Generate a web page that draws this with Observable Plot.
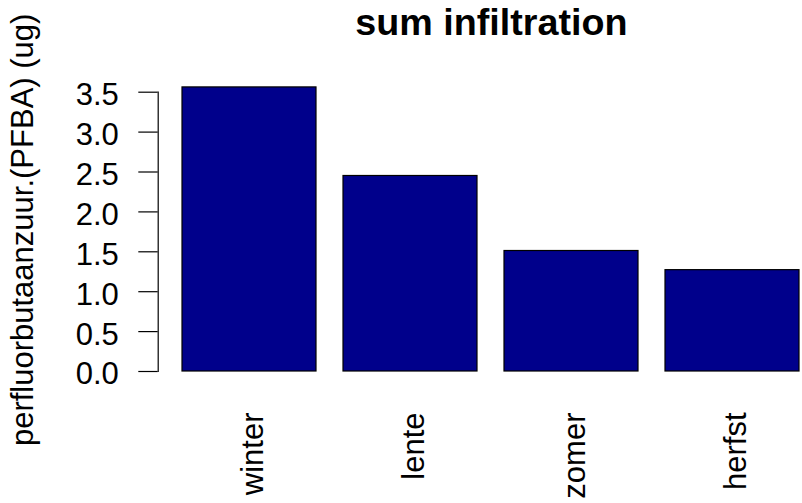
<!DOCTYPE html>
<html>
<head>
<meta charset="utf-8">
<script src="https://cdn.jsdelivr.net/npm/d3@7"></script>
<script src="https://cdn.jsdelivr.net/npm/@observablehq/plot@0.6"></script>
<style>
  html, body { margin: 0; padding: 0; background: #ffffff; }
  #chart { width: 802px; height: 503px; overflow: hidden; }
</style>
</head>
<body>
<div id="chart"></div>
<script>
// Data
const seasons = ["winter", "lente", "zomer", "herfst"];
const values = [3.56, 2.45, 1.51, 1.27];
const yTicks = [0, 0.5, 1.0, 1.5, 2.0, 2.5, 3.0, 3.5];
const titleText = "sum infiltration";
const yLabel = "perfluorbutaanzuur.(PFBA) (ug)";

const data = seasons.map((s, i) => ({season: s, value: values[i]}));
const font = "'Liberation Sans', Arial, Helvetica, sans-serif";

const chart = Plot.plot({
  width: 802,
  height: 503,
  marginTop: 91.7,
  marginBottom: 132,
  marginLeft: 157.7,
  marginRight: 0,
  style: {fontFamily: font, background: "#ffffff", color: "#000000", overflow: "visible"},
  x: {domain: seasons, range: [180.7, 800.5], paddingInner: 1 / 6, paddingOuter: 0, axis: null},
  y: {domain: [0, 3.5], axis: null},
  marks: [
    Plot.barY(data, {x: "season", y: "value", fill: "#00008B", stroke: "#000000", strokeWidth: 1.2}),
    Plot.frame({anchor: "left", stroke: "#000000", strokeWidth: 1.2}),
    // tick marks
    Plot.axisY({
      ticks: yTicks,
      tickSize: 19.4,
      text: null,
      stroke: "#000000",
      strokeWidth: 1.2,
      label: null
    }),
    // tick labels
    Plot.axisY({
      ticks: yTicks,
      tickFormat: d => d.toFixed(1),
      tickSize: 0,
      tickPadding: 39.4,
      fontSize: 31,
      dy: 3,
      fill: "#000000",
      label: null
    }),
    Plot.text(seasons, {
      x: d => d,
      text: d => d,
      frameAnchor: "bottom",
      rotate: -90,
      textAnchor: "end",
      lineAnchor: "middle",
      fontSize: 31,
      fill: "#000000",
      dy: 41,
      dx: 3.5
    }),
    Plot.text([yLabel], {
      text: d => d,
      frameAnchor: "left",
      rotate: -90,
      textAnchor: "middle",
      lineAnchor: "middle",
      fontSize: 31,
      fill: "#000000",
      dx: -135,
      dy: -2
    }),
    Plot.text([titleText], {
      text: d => d,
      frameAnchor: "top",
      textAnchor: "middle",
      lineAnchor: "middle",
      fontSize: 37.7,
      fontWeight: "bold",
      fill: "#000000",
      dx: 11,
      dy: -69
    })
  ]
});

document.getElementById("chart").appendChild(chart);
</script>
</body>
</html>
